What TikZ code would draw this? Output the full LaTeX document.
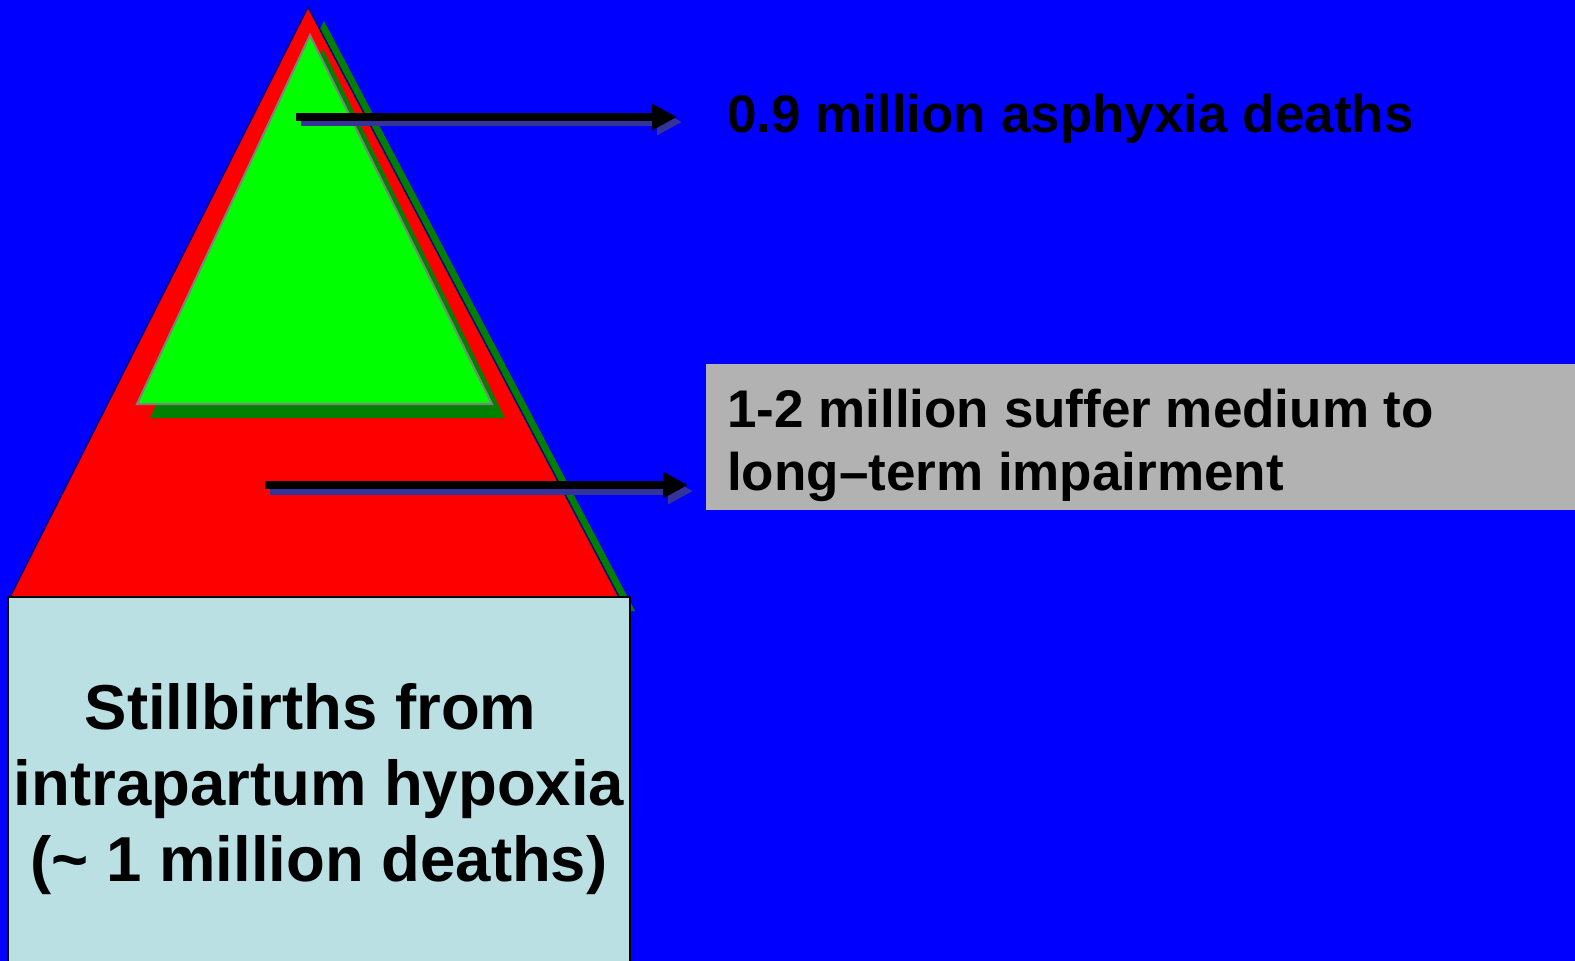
\documentclass[tikz,border=0pt]{standalone}
\usepackage{fontspec}
\setmainfont{Liberation Sans}
\usetikzlibrary{arrows.meta}
\definecolor{bgblue}{RGB}{0,0,255}
\definecolor{shadegreen}{RGB}{0,128,0}
\definecolor{limegreen}{RGB}{0,255,0}
\definecolor{paleblue}{RGB}{187,224,227}
\definecolor{labelgray}{RGB}{178,178,178}
\definecolor{arrowshade}{RGB}{51,51,153}
\definecolor{rimnavy}{RGB}{0,0,128}
\tikzstyle{pointer}=[line width=8pt, -{Triangle[length=25pt,width=25pt]}]
\tikzstyle{txt}=[inner sep=0, text=black, font=\bfseries\fontsize{53}{63}\selectfont]
\tikzstyle{bigtxt}=[font=\bfseries\fontsize{63.5}{76}\selectfont]

\begin{document}
\begin{tikzpicture}[x=1pt, y=-1pt]
\clip (0,0) rectangle (1575,961);
\fill[bgblue] (0,0) rectangle (1575,961);
%\draw[help lines,step=50] (0,0) grid (1575,961);
% red triangle and its shadow
\fill[shadegreen] (324,21)--(26,611)--(635,611)--cycle;
\filldraw[fill=red, draw=rimnavy, line width=1.5pt] (308,7)--(10,597)--(619,597)--cycle;
% green triangle and its shadow
\fill[shadegreen] (323,49)--(150,418)--(505,418)--cycle;
\filldraw[fill=limegreen, draw=gray, line width=2pt] (310,35)--(137,404)--(492,404)--cycle;
\fill[labelgray] (706,364) rectangle (1575,510);
\coordinate (p1) at (296,117);
\coordinate (q1) at (677,117);
\coordinate (p2) at (265,485);
\coordinate (q2) at (688,485);
\draw[pointer, arrowshade] ([shift={(5,5)}]p1)--([shift={(5,5)}]q1);
\draw[pointer] (p1)--(q1);
\draw[pointer, arrowshade] ([shift={(5,6)}]p2)--([shift={(5,6)}]q2);
\draw[pointer] (p2)--(q2);
\node at (727,132)[txt, anchor=base west](deaths){0.9 million asphyxia deaths};
\node at (727,490)[txt, anchor=base west, align=left](impair){1-2 million suffer medium to\\long--term impairment};
\node at (8,597)[anchor=north west, draw=black, line width=2pt, fill=paleblue, outer sep=0, inner sep=0,
  minimum width=622, minimum height=385, align=center, bigtxt](stillbox){Stillbirths from\kern17pt\\intrapartum hypoxia\\(\textasciitilde{} 1 million deaths)};
\end{tikzpicture}
\end{document}
